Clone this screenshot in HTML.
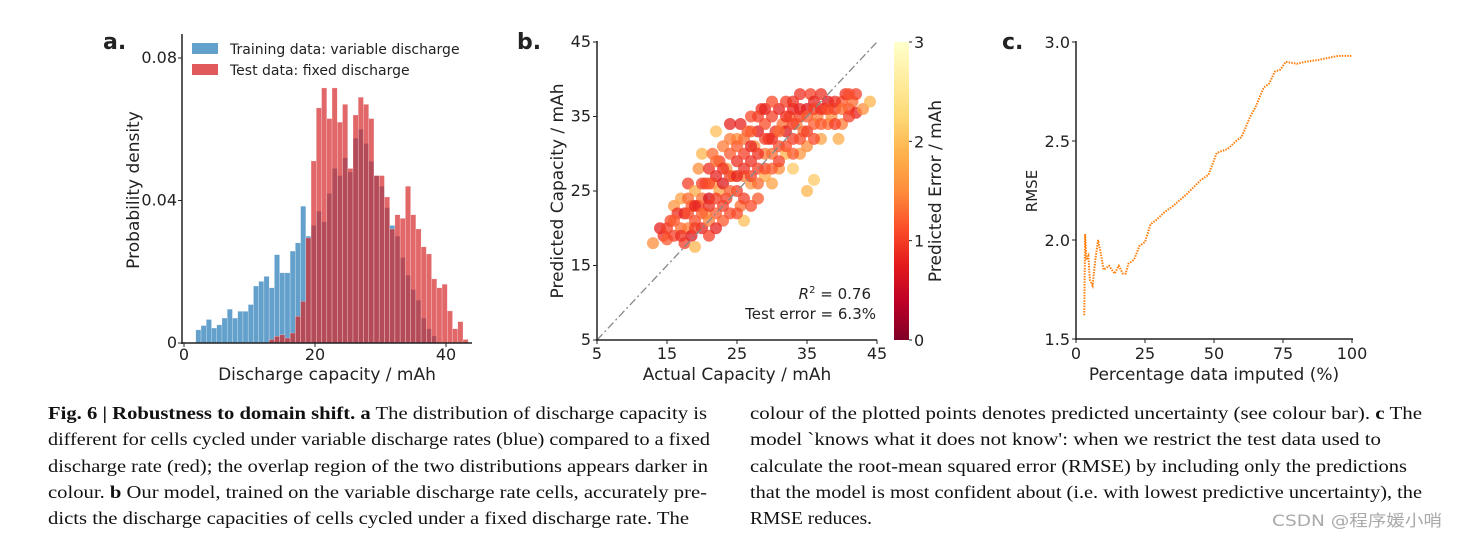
<!DOCTYPE html>
<html><head><meta charset="utf-8"><style>
html,body{margin:0;padding:0;background:#fff;}
svg{display:block;}
text{font-family:"DejaVu Sans","Liberation Sans",sans-serif;fill:#222;}
.cap{font-family:"Liberation Serif",serif;font-size:18px;fill:#111;}
</style></head><body>
<svg id="fig" width="1457" height="539" viewBox="0 0 1457 539" xmlns="http://www.w3.org/2000/svg">
<defs>
<linearGradient id="cbar" x1="0" y1="1" x2="0" y2="0">
<stop offset="0" stop-color="#800026"/><stop offset="0.125" stop-color="#bd0026"/><stop offset="0.25" stop-color="#e31a1c"/><stop offset="0.375" stop-color="#fc4e2a"/><stop offset="0.5" stop-color="#fd8d3c"/><stop offset="0.625" stop-color="#feb24c"/><stop offset="0.75" stop-color="#fed976"/><stop offset="0.875" stop-color="#ffeda0"/><stop offset="1" stop-color="#ffffcc"/>
</linearGradient>
</defs>
<g id="pa"></g>
<g id="pb"></g>
<g id="pc"></g>
<g>
<text class="cap" x="48" y="419" textLength="659" lengthAdjust="spacingAndGlyphs"><tspan font-weight="bold">Fig. 6 | Robustness to domain shift. a</tspan> The distribution of discharge capacity is</text>
<text class="cap" x="48" y="445" textLength="662" lengthAdjust="spacingAndGlyphs">different for cells cycled under variable discharge rates (blue) compared to a fixed</text>
<text class="cap" x="48" y="472" textLength="660" lengthAdjust="spacingAndGlyphs">discharge rate (red); the overlap region of the two distributions appears darker in</text>
<text class="cap" x="48" y="498" textLength="659" lengthAdjust="spacingAndGlyphs">colour. <tspan font-weight="bold">b</tspan> Our model, trained on the variable discharge rate cells, accurately pre-</text>
<text class="cap" x="48" y="524" textLength="641" lengthAdjust="spacingAndGlyphs">dicts the discharge capacities of cells cycled under a fixed discharge rate. The</text>
<text class="cap" x="750" y="419" textLength="672" lengthAdjust="spacingAndGlyphs">colour of the plotted points denotes predicted uncertainty (see colour bar). <tspan font-weight="bold">c</tspan> The</text>
<text class="cap" x="750" y="445" textLength="631" lengthAdjust="spacingAndGlyphs">model `knows what it does not know': when we restrict the test data used to</text>
<text class="cap" x="750" y="472" textLength="657" lengthAdjust="spacingAndGlyphs">calculate the root-mean squared error (RMSE) by including only the predictions</text>
<text class="cap" x="750" y="498" textLength="672" lengthAdjust="spacingAndGlyphs">that the model is most confident about (i.e. with lowest predictive uncertainty), the</text>
<text class="cap" x="750" y="524" textLength="122" lengthAdjust="spacingAndGlyphs">RMSE reduces.</text>
<text x="1272" y="526" textLength="170" lengthAdjust="spacingAndGlyphs" font-family="Liberation Sans,'Noto Sans CJK SC',sans-serif" font-size="16" style="fill:#aaa">CSDN @程序媛小哨</text>
</g>
</svg>
<script>
// ---------- Panel a data ----------
const binWidth = 0.8;
const blueStart = 1.8;
const blueDensity = [0.0037,0.0049,0.0066,0.0042,0.0051,0.0070,0.0095,0.0070,0.0089,0.0089,0.0108,0.0160,0.0173,0.0187,0.0155,0.0248,0.0197,0.0197,0.0258,0.0281,0.0384,0.0300,0.0330,0.0370,0.0340,0.0420,0.0490,0.0470,0.0520,0.0480,0.0575,0.0600,0.0560,0.0510,0.0470,0.0440,0.0380,0.0330,0.0300,0.0240,0.0190,0.0150,0.0120,0.0070,0.0040,0.0020];
const redStart = 13.0;
const redDensity = [0.0010,0.0019,0.0023,0.0014,0.0028,0.0075,0.0117,0.0295,0.0511,0.0660,0.0716,0.0630,0.0716,0.0620,0.0670,0.0490,0.0640,0.0690,0.0670,0.0630,0.0470,0.0470,0.0410,0.0320,0.0360,0.0350,0.0440,0.0360,0.0320,0.0270,0.0250,0.0180,0.0155,0.0165,0.0090,0.0040,0.0060,0.0010];
const aXTicks = [0,20,40];
const aYTicks = [0,0.04,0.08];
const aYTickLabels = ["0","0.04","0.08"];
// ---------- Panel b data (actual, predicted, predicted error) ----------
const bActual = [13,14,14.5,15,15.5,16,16,16.5,17,17,17.5,17.5,18,18,18.5,18.5,19,19,19,19.5,19.5,20,20,20,20.5,20.5,21,21,21,21.5,21.5,22,22,22,22.5,22.5,23,23,23,23.5,23.5,24,24,24,24.5,25,25,25,25.5,25.5,26,26,26,26.5,27,27,27,27.5,28,28,28,28.5,29,29,29,29.5,30,30,30,30.5,31,31,31,31.5,32,32,32,32.5,33,33,33,33.5,34,34,34,34.5,35,35,35,35.5,36,36,36,36.5,37,37,37.5,38,38,38.5,39,39.5,40,40,40.5,41,41.5,42,42,43,44,
15,16,17,18,18,19,19,20,20,21,21,21,22,22,22,23,23,24,24,24,25,25,25,26,26,26,27,27,27,27,28,28,28,29,29,29,30,30,30,31,31,32,32,33,33,33,34,34,35,35,36,36,37,37,38,39,39,40,41,41];
const bPred = [18,20,19,18.5,21,23,19,22,20,24,18,22,26,20,23,19,25,21,17.5,28,23,24,20,30,26,22,28,19,24,26,30,22,27,33,25,29,21,31,26,28,24,34,30,22,27,25,29,32,23,34,27,30,21,33,26,29,35,31,24,28,33,36,30,27,34,32,26,35,30,33,28,36,31,34,30,37,33,35,28,32,36,34,38,30,35,33,36,31,25,38,34,26.5,37,35,32,38,36,34,37,35,36,32,37,34,38,36,37,35.5,38,36,37,
20,21,19,22,24,20,23,22,26,21,23,26,24,20,29,23,28,25,27,32,27,22,31,24,28,32,23,27,31,33,26,30,35,28,32,36,28,32,37,29,33,31,35,30,34,37,32,36,33,35,32,36,34,36,36,34,37,36,35,38];
const bErr = [1.5,0.8,0.9,1.2,1.1,1.6,1.0,0.9,1.3,1.7,1.0,0.8,1.0,1.4,1.2,0.7,1.8,1.1,1.9,1.5,0.9,1.3,0.8,1.9,1.1,1.6,0.9,1.0,0.6,1.5,1.3,1.2,0.8,2.0,1.7,1.0,1.2,1.4,0.7,1.6,1.0,0.8,1.2,1.1,1.8,1.0,0.9,1.5,1.3,0.8,1.4,1.0,2.0,1.2,1.6,0.9,1.1,1.5,1.2,1.0,0.7,0.9,1.4,1.8,1.1,0.8,1.7,1.0,1.3,0.9,1.5,0.8,1.1,1.3,1.9,1.0,0.7,1.2,2.1,1.0,0.8,1.4,0.9,1.6,1.0,1.3,0.7,1.5,1.9,1.0,1.2,2.1,0.8,1.4,1.7,0.9,1.1,1.3,0.7,1.5,1.0,1.8,1.2,1.4,0.9,1.1,1.3,0.8,1.0,1.5,1.9,
1.0,1.2,0.9,1.1,1.3,1.0,0.8,1.2,1.0,1.4,0.9,1.1,1.0,0.8,1.3,1.0,0.9,1.2,1.0,1.4,0.8,1.1,1.2,1.0,0.9,1.3,1.1,1.0,0.8,1.2,1.3,0.9,1.0,1.1,1.0,0.8,1.2,0.9,1.1,1.0,1.3,1.1,0.9,1.2,1.0,0.9,1.1,0.8,1.0,1.2,1.1,1.0,1.2,0.9,1.1,1.0,0.9,1.3,1.0,1.1];
const bTicks = [5,15,25,35,45];
const cbTicks = [0,1,2,3];
// ---------- Panel c data ----------
const cPct = [3,3.3,3.8,4.5,5,6,7,8,9,10,12,14,15.5,17,18,19,21,23,25,27,29,32,35,40,45,48,51,55,58,60,63,65,68,70,72,74,76,80,83,88,95,100];
const cRmse = [1.62,2.03,1.90,1.92,1.80,1.77,1.90,2.00,1.93,1.85,1.87,1.83,1.87,1.83,1.83,1.88,1.90,1.97,1.99,2.08,2.10,2.14,2.17,2.23,2.30,2.33,2.44,2.46,2.50,2.52,2.62,2.67,2.77,2.79,2.85,2.86,2.90,2.89,2.90,2.91,2.93,2.93];
const cXTicks = [0,25,50,75,100];
const cYTicks = [1.5,2.0,2.5,3.0];

const NS="http://www.w3.org/2000/svg";
function mk(parent,tag,attrs,txt){const e=document.createElementNS(NS,tag);for(const k in attrs)e.setAttribute(k,attrs[k]);if(txt!==undefined)e.textContent=txt;parent.appendChild(e);return e;}

// ===== Panel a =====
(function(){
const g=document.getElementById('pa');
const x=v=>184+v*6.55, y=v=>343-v*(142.5/0.04);
blueDensity.forEach((d,i)=>{const x0=x(blueStart+i*binWidth);
 const r=mk(g,'rect',{x:x0,y:y(d),width:binWidth*6.55,height:343-y(d),fill:'rgb(99,160,203)',stroke:'#fff','stroke-width':0.5,'stroke-opacity':0.5});
 
 });
redDensity.forEach((d,i)=>{const x0=x(redStart+i*binWidth);
 const r=mk(g,'rect',{x:x0,y:y(d),width:binWidth*6.55,height:343-y(d),fill:'rgb(214,39,40)','fill-opacity':0.7,stroke:'#fff','stroke-width':0.5,'stroke-opacity':0.5});
 
 });
mk(g,'line',{x1:182,y1:34,x2:182,y2:344,stroke:'#222','stroke-width':1.5});
mk(g,'line',{x1:181,y1:343,x2:472,y2:343,stroke:'#222','stroke-width':1.5});
aXTicks.forEach(t=>{mk(g,'line',{x1:x(t),y1:343,x2:x(t),y2:347,stroke:'#222'});mk(g,'text',{x:x(t),y:360,'text-anchor':'middle','font-size':16},String(t));});
aYTicks.forEach((t,i)=>{mk(g,'line',{x1:178,y1:y(t),x2:182,y2:y(t),stroke:'#222'});mk(g,'text',{x:177,y:y(t)+5,'text-anchor':'end','font-size':16},aYTickLabels[i]);});
mk(g,'text',{x:327,y:380,'text-anchor':'middle','font-size':17},'Discharge capacity / mAh');
mk(g,'text',{x:139,y:190,'text-anchor':'middle','font-size':17,transform:'rotate(-90 139 190)'},'Probability density');
mk(g,'text',{x:103,y:49,'font-size':22,'font-weight':'bold'},'a.');
mk(g,'rect',{x:192,y:43,width:26,height:11,fill:'rgb(99,160,203)'});
mk(g,'rect',{x:192,y:64,width:26,height:11,fill:'rgb(224,90,92)'});
mk(g,'text',{x:230,y:54,'font-size':14},'Training data: variable discharge');
mk(g,'text',{x:230,y:75,'font-size':14},'Test data: fixed discharge');
})();

// ===== Panel b =====
(function(){
const g=document.getElementById('pb');
const x=v=>597+(v-5)*7, y=v=>340-(v-5)*7.45;
const stops=[[128,0,38],[189,0,38],[227,26,28],[252,78,42],[253,141,60],[254,178,76],[254,217,118],[255,237,160],[255,255,204]];
function cmap(v){let t=Math.max(0,Math.min(1,v/3))*8;const i=Math.min(7,Math.floor(t)),f=t-i;const a=stops[i],b=stops[i+1];return 'rgb('+a.map((c,k)=>Math.round(c+(b[k]-c)*f)).join(',')+')';}
bActual.forEach((a,i)=>{const c=mk(g,'circle',{cx:x(a),cy:y(bPred[i]),r:6,fill:cmap(bErr[i]),'fill-opacity':0.75});
 
 });
mk(g,'line',{x1:x(5),y1:y(5),x2:x(45),y2:y(45),stroke:'#888','stroke-width':1.3,'stroke-dasharray':'8,3,2,3'});
mk(g,'line',{x1:597,y1:41,x2:597,y2:341,stroke:'#222','stroke-width':1.5});
mk(g,'line',{x1:596,y1:340,x2:877,y2:340,stroke:'#222','stroke-width':1.5});
bTicks.forEach(t=>{mk(g,'line',{x1:x(t),y1:340,x2:x(t),y2:344,stroke:'#222'});mk(g,'text',{x:x(t),y:359,'text-anchor':'middle','font-size':16},String(t));
 mk(g,'line',{x1:593,y1:y(t),x2:597,y2:y(t),stroke:'#222'});mk(g,'text',{x:591,y:y(t)+5,'text-anchor':'end','font-size':16},String(t));});
mk(g,'text',{x:737,y:380,'text-anchor':'middle','font-size':17},'Actual Capacity / mAh');
mk(g,'text',{x:563,y:191,'text-anchor':'middle','font-size':17,transform:'rotate(-90 563 191)'},'Predicted Capacity / mAh');
mk(g,'text',{x:517,y:49,'font-size':22,'font-weight':'bold'},'b.');
const r2=mk(g,'text',{x:871,y:299,'text-anchor':'end','font-size':15});
r2.innerHTML='<tspan font-style="italic">R</tspan><tspan dy="-6" font-size="10">2</tspan><tspan dy="6"> = 0.76</tspan>';
mk(g,'text',{x:876,y:319,'text-anchor':'end','font-size':15},'Test error = 6.3%');
mk(g,'rect',{x:894,y:42,width:15,height:298,fill:'url(#cbar)'});
const cy=v=>340-v*(298/3);
cbTicks.forEach(t=>{mk(g,'line',{x1:909,y1:cy(t),x2:912,y2:cy(t),stroke:'#222'});mk(g,'text',{x:914,y:cy(t)+6,'font-size':16},String(t));});
mk(g,'text',{x:941,y:191,'text-anchor':'middle','font-size':17,transform:'rotate(-90 941 191)'},'Predicted Error / mAh');
})();

// ===== Panel c =====
(function(){
const g=document.getElementById('pc');
const x=v=>1076+v*2.76, y=v=>339-(v-1.5)*198;
const pts=cPct.map((p,i)=>x(p)+','+y(cRmse[i])).join(' ');
const pl=mk(g,'polyline',{points:pts,fill:'none',stroke:'#ff7f0e','stroke-width':2,'stroke-dasharray':'1.5,1.2'});


mk(g,'line',{x1:1076,y1:41,x2:1076,y2:340,stroke:'#222','stroke-width':1.5});
mk(g,'line',{x1:1075,y1:339,x2:1353,y2:339,stroke:'#222','stroke-width':1.5});
cXTicks.forEach(t=>{mk(g,'line',{x1:x(t),y1:339,x2:x(t),y2:343,stroke:'#222'});mk(g,'text',{x:x(t),y:359,'text-anchor':'middle','font-size':16},String(t));});
cYTicks.forEach(t=>{mk(g,'line',{x1:1072,y1:y(t),x2:1076,y2:y(t),stroke:'#222'});mk(g,'text',{x:1070,y:y(t)+6,'text-anchor':'end','font-size':16},t.toFixed(1));});
mk(g,'text',{x:1214,y:380,'text-anchor':'middle','font-size':17},'Percentage data imputed (%)');
mk(g,'text',{x:1037,y:191,'text-anchor':'middle','font-size':15,transform:'rotate(-90 1037 191)'},'RMSE');
mk(g,'text',{x:1002,y:49,'font-size':22,'font-weight':'bold'},'c.');
})();
</script>
</body></html>
